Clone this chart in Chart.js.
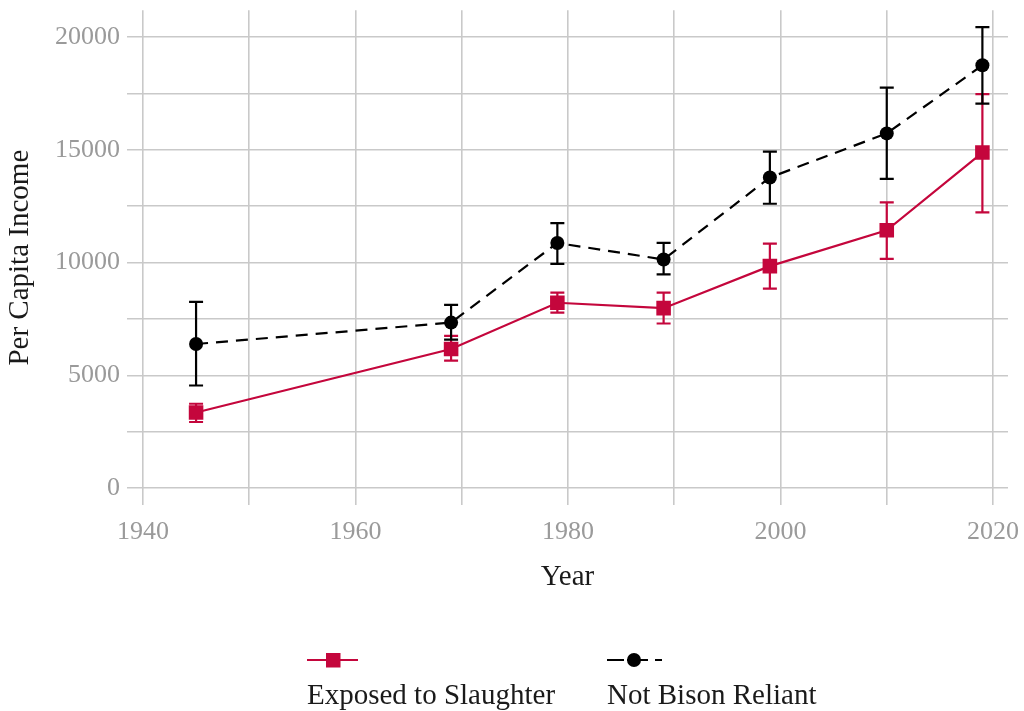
<!DOCTYPE html>
<html>
<head>
<meta charset="utf-8">
<script src="https://cdn.jsdelivr.net/npm/chart.js@4"></script>
<style>
  html, body { margin: 0; padding: 0; background: #ffffff; }
  #wrap { position: relative; width: 1024px; height: 711px; }
  #chart { position: absolute; left: 0; top: 0; }
  .legend-item { position: absolute; font-family: "Liberation Serif", serif; font-size: 29px; color: #1a1a1a; white-space: nowrap; }
  .legend-item svg { position: absolute; left: 0; top: 0; }
  .legend-item span { position: absolute; left: 0; top: 29px; line-height: 34px; }
</style>
</head>
<body>
<div id="wrap">
  <canvas id="chart" width="1024" height="711"></canvas>
  <div class="legend-item" style="left:307px; top:648px;">
    <svg width="60" height="24"><line x1="0" y1="12" x2="51" y2="12" stroke="#c4063c" stroke-width="2.2"/><rect x="19" y="5" width="14.5" height="14.5" fill="#c4063c"/></svg>
    <span>Exposed to Slaughter</span>
  </div>
  <div class="legend-item" style="left:607px; top:648px;">
    <svg width="60" height="24"><line x1="0" y1="12" x2="55" y2="12" stroke="#000" stroke-width="2.2" stroke-dasharray="17,3,21,7,7,10"/><circle cx="27" cy="12" r="7" fill="#000"/></svg>
    <span>Not Bison Reliant</span>
  </div>
</div>
<script>
// Survey years
const years = [1945, 1969, 1979, 1989, 1999, 2010, 2019];

// Exposed to Slaughter: mean per capita income and interval bounds
const exposedMean = [3350, 6170, 8220, 7980, 9845, 11435, 14880];
const exposedLow  = [2930, 5650, 7785, 7300, 8845, 10165, 12230];
const exposedHigh = [3740, 6750, 8665, 8670, 10845, 12670, 17470];

// Not Bison Reliant: mean per capita income and interval bounds
const notRelMean = [6390, 7340, 10870, 10140, 13775, 15730, 18750];
const notRelLow  = [4550, 6580, 9945, 9480, 12610, 13715, 17055];
const notRelHigh = [8255, 8125, 11755, 10875, 14925, 17760, 20440];

// Grid breaks (major and minor) and the labelled ones
const xGridValues = [1940, 1950, 1960, 1970, 1980, 1990, 2000, 2010, 2020];
const xTickLabels = [1940, 1960, 1980, 2000, 2020];
const yGridValues = [0, 2500, 5000, 7500, 10000, 12500, 15000, 17500, 20000];
const yTickLabels = [0, 5000, 10000, 15000, 20000];

const RED = '#c4063c';
const BLACK = '#000000';
const GRID = '#c9c9c9';
const TICK_COLOR = '#9a9a9a';

const toPoints = (xs, ys) => xs.map((x, i) => ({ x: x, y: ys[i] }));

// Keep the plot panel fixed: no extra room reserved for edge labels
function clearEdgePadding(scale) {
  scale.paddingTop = 0;
  scale.paddingBottom = 0;
  scale.paddingLeft = 0;
  scale.paddingRight = 0;
}

// Error bars drawn through the chart scales, underneath lines and markers
const errorBarPlugin = {
  id: 'errorBars',
  beforeDatasetsDraw(chart) {
    const { ctx, scales: { x, y } } = chart;
    const groups = [
      { low: exposedLow, high: exposedHigh, color: RED },
      { low: notRelLow, high: notRelHigh, color: BLACK }
    ];
    const cap = 7;
    ctx.save();
    ctx.lineWidth = 2.2;
    groups.forEach(g => {
      ctx.strokeStyle = g.color;
      years.forEach((yr, i) => {
        const px = x.getPixelForValue(yr);
        const lo = y.getPixelForValue(g.low[i]);
        const hi = y.getPixelForValue(g.high[i]);
        ctx.beginPath();
        ctx.moveTo(px, lo); ctx.lineTo(px, hi);
        ctx.moveTo(px - cap, lo); ctx.lineTo(px + cap, lo);
        ctx.moveTo(px - cap, hi); ctx.lineTo(px + cap, hi);
        ctx.stroke();
      });
    });
    ctx.restore();
  }
};

new Chart(document.getElementById('chart'), {
  type: 'line',
  data: {
    datasets: [
      {
        label: 'Exposed to Slaughter',
        data: toPoints(years, exposedMean),
        borderColor: RED,
        backgroundColor: RED,
        borderWidth: 2.2,
        pointStyle: 'rect',
        pointRadius: 10.3,
        pointBorderWidth: 0,
        pointBackgroundColor: RED,
        tension: 0
      },
      {
        label: 'Not Bison Reliant',
        data: toPoints(years, notRelMean),
        borderColor: BLACK,
        backgroundColor: BLACK,
        borderWidth: 2.2,
        borderDash: [12, 8],
        pointStyle: 'circle',
        pointRadius: 7,
        pointBorderWidth: 0,
        pointBackgroundColor: BLACK,
        tension: 0
      }
    ]
  },
  options: {
    responsive: false,
    animation: false,
    devicePixelRatio: 1,
    layout: { padding: { top: 6, right: 16, left: 0, bottom: 0 } },
    plugins: {
      legend: { display: false },
      tooltip: { enabled: false }
    },
    scales: {
      x: {
        type: 'linear',
        min: 1938.5,
        max: 2021.41,
        afterBuildTicks(scale) { scale.ticks = xGridValues.map(v => ({ value: v })); },
        afterFit(scale) { scale.height = 206; clearEdgePadding(scale); },
        border: { display: false },
        grid: { color: GRID, lineWidth: 1.6, drawTicks: false },
        ticks: {
          autoSkip: false,
          maxRotation: 0,
          padding: 12,
          color: TICK_COLOR,
          font: { family: 'Liberation Serif', size: 26 },
          callback: v => xTickLabels.includes(v) ? String(v) : ''
        },
        title: {
          display: true,
          text: 'Year',
          color: '#1a1a1a',
          font: { family: 'Liberation Serif', size: 29 },
          padding: { top: 0, bottom: 116 }
        }
      },
      y: {
        type: 'linear',
        min: -750,
        max: 21190,
        afterBuildTicks(scale) { scale.ticks = yGridValues.map(v => ({ value: v })); },
        afterFit(scale) { scale.width = 127; clearEdgePadding(scale); },
        border: { display: false },
        grid: { color: GRID, lineWidth: 1.6, drawTicks: false },
        ticks: {
          autoSkip: false,
          padding: 7,
          color: TICK_COLOR,
          font: { family: 'Liberation Serif', size: 26 },
          callback: v => yTickLabels.includes(v) ? String(v) : ''
        },
        title: {
          display: true,
          text: 'Per Capita Income',
          color: '#1a1a1a',
          font: { family: 'Liberation Serif', size: 29 },
          padding: { top: 3, bottom: 0 }
        }
      }
    }
  },
  plugins: [errorBarPlugin]
});
</script>
</body>
</html>
